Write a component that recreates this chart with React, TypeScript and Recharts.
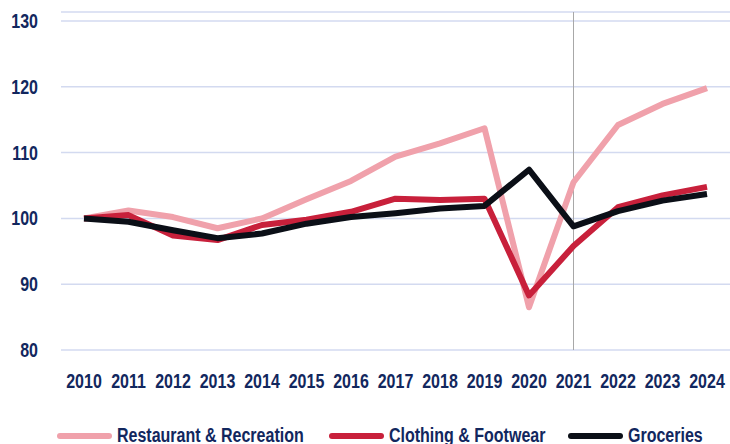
import React from 'react';
import { LineChart, Line, XAxis, YAxis, CartesianGrid, ReferenceLine, Legend } from 'recharts';

const years = ['2010','2011','2012','2013','2014','2015','2016','2017','2018','2019','2020','2021','2022','2023','2024'];
const restaurant = [100, 101.2, 100.2, 98.5, 100, 102.9, 105.7, 109.4, 111.4, 113.7, 86.5, 105.5, 114.2, 117.4, 119.8];
const clothing = [100, 100.5, 97.4, 96.7, 99, 99.8, 101, 103, 102.8, 103, 88.3, 95.8, 101.7, 103.5, 104.8];
const groceries = [100, 99.5, 98.2, 97, 97.7, 99.2, 100.2, 100.8, 101.5, 101.9, 107.4, 98.8, 101.1, 102.7, 103.7];
const yTicks = [80, 90, 100, 110, 120, 130];

const seriesNames = ['Restaurant & Recreation', 'Clothing & Footwear', 'Groceries'];
const seriesColors = ['#F0A1AB', '#C8203B', '#0B0F17'];
const legendX = [57, 329, 568];

const data = years.map((y, i) => ({
  year: y,
  restaurant: restaurant[i],
  clothing: clothing[i],
  groceries: groceries[i],
}));

const FONT = '"Liberation Sans", Arial, sans-serif';
const TEXT = '#12275E';
const SX = 0.8;

const XTick = (props: any) => {
  const { x, y, payload } = props;
  return (
    <text transform={`translate(${x},${y + 15}) scale(${SX},1)`} textAnchor="middle" fill={TEXT} fontFamily={FONT} fontSize={20} fontWeight="bold">
      {payload.value}
    </text>
  );
};

const YTick = (props: any) => {
  const { x, y, payload } = props;
  return (
    <text transform={`translate(${x},${y + 7}) scale(${SX},1)`} textAnchor="end" fill={TEXT} fontFamily={FONT} fontSize={20} fontWeight="bold">
      {payload.value}
    </text>
  );
};

const LegendContent = () => (
  <svg width={730} height={32} style={{ display: 'block' }}>
    {seriesNames.map((n, i) => (
      <g key={n}>
        <line x1={legendX[i] + 3} x2={legendX[i] + 52} y1={24} y2={24} stroke={seriesColors[i]} strokeWidth={6} strokeLinecap="round" />
        <text transform={`translate(${legendX[i] + 60},${30}) scale(${SX},1)`} fill={TEXT} fontFamily={FONT} fontSize={20} fontWeight="bold">
          {n}
        </text>
      </g>
    ))}
  </svg>
);

export default function App() {
  return (
    <div style={{ position: 'absolute', left: 0, top: 0, width: 730, height: 444, background: '#fff' }}>
      <LineChart width={730} height={444} data={data} margin={{ top: 12, right: 0, bottom: 0, left: 0 }}>
        <CartesianGrid vertical={false} stroke="#D3DAF0" strokeWidth={1.5} />
        <XAxis
          dataKey="year"
          axisLine={false}
          tickLine={false}
          tickSize={0}
          tickMargin={23}
          height={62}
          padding={{ left: 23, right: 23 }}
          interval={0}
          tick={<XTick />}
        />
        <YAxis
          domain={[80, 131.37]}
          ticks={yTicks}
          axisLine={false}
          tickLine={false}
          tickSize={0}
          tickMargin={23}
          width={61}
          allowDataOverflow
          tick={<YTick />}
        />
        <ReferenceLine x="2021" stroke="#A8A8A8" strokeWidth={1} />
        <Legend verticalAlign="bottom" height={32} wrapperStyle={{ left: 0, bottom: 0, width: 730 }} content={<LegendContent />} />
        <Line dataKey="restaurant" name={seriesNames[0]} stroke={seriesColors[0]} strokeWidth={6} dot={false} isAnimationActive={false} strokeLinejoin="round" />
        <Line dataKey="clothing" name={seriesNames[1]} stroke={seriesColors[1]} strokeWidth={6} dot={false} isAnimationActive={false} strokeLinejoin="round" />
        <Line dataKey="groceries" name={seriesNames[2]} stroke={seriesColors[2]} strokeWidth={6} dot={false} isAnimationActive={false} strokeLinejoin="round" />
      </LineChart>
    </div>
  );
}
